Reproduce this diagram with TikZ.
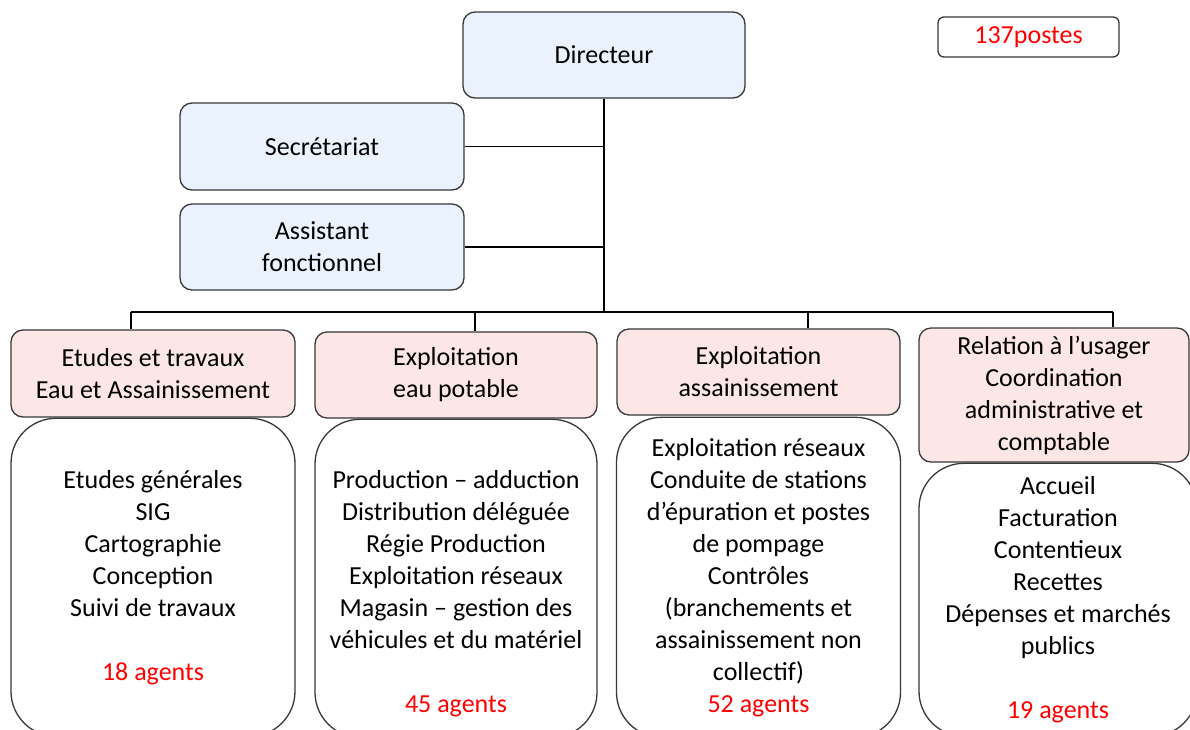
\documentclass[tikz,border=0pt]{standalone}
\usepackage{fontspec}
\setmainfont{Carlito}
\usetikzlibrary{positioning}
\definecolor{bleu}{HTML}{EAF3FD}
\definecolor{rose}{HTML}{FDE6E6}
\definecolor{bord}{HTML}{383838}

\begin{document}
\begin{tikzpicture}[x=1pt,y=-1pt,
    font=\fontsize{26}{32}\selectfont,
    cadre/.style={draw=bord,line width=1.3pt,rounded corners=12pt,inner sep=0pt,align=center},
    chef/.style={cadre,fill=bleu},
    pole/.style={cadre,fill=rose},
    liste/.style={draw=bord,line width=1.3pt,rounded corners=45pt,inner sep=0pt},
    texte/.style={align=center,inner sep=0pt},
    lien/.style={line width=1.2pt}]
    \useasboundingbox (0,0) rectangle (1190,729);
    \clip (0,0) rectangle (1190,729);
    % direction
    \node[chef,minimum width=282pt,minimum height=86pt] (dir) at (604,55) {Directeur};
    \node[chef,minimum width=284pt,minimum height=87pt] (sec) at (322,146.5) {Secrétariat};
    \node[chef,minimum width=284pt,minimum height=86pt] (asst) at (322,247) {Assistant\\fonctionnel};
    \node[cadre,rounded corners=6pt,minimum width=181pt,minimum height=40pt,text=red] (postes) at (1028.5,37) {137postes};
    % poles
    \node[pole,minimum width=284pt,minimum height=87pt] (h1) at (153,373.5) {Etudes et travaux\\Eau et Assainissement};
    \node[pole,minimum width=282pt,minimum height=86pt] (h2) at (456,375) {Exploitation\\eau potable};
    \node[pole,minimum width=283pt,minimum height=86pt] (h3) at (758.5,372) {Exploitation\\assainissement};
    \node[pole,minimum width=270pt,minimum height=134pt] (h4) at (1054,395) {Relation à l’usager\\Coordination\\administrative et\\comptable};
    % missions
    \node[liste,minimum width=284pt,minimum height=318pt,below=0pt of h1] (d1) {};
    \node[liste,minimum width=282pt,minimum height=318pt,below=0pt of h2] (d2) {};
    \node[liste,minimum width=284pt,minimum height=320pt,below=1pt of h3] (d3) {};
    \node[liste,minimum width=278pt,minimum height=273pt,below=0pt of h4,xshift=4pt] (d4) {};
    \node[texte] (l1) at (d1.center) {Etudes générales\\SIG\\Cartographie\\Conception\\Suivi de travaux\\[32pt]\textcolor{red}{18 agents}};
    \node[texte] (l2) at ([yshift=-15pt]d2.center) {Production – adduction\\Distribution déléguée\\Régie Production\\Exploitation réseaux\\Magasin – gestion des\\véhicules et du matériel\\[32pt]\textcolor{red}{45 agents}};
    \node[texte] (l3) at (d3.center) {Exploitation réseaux\\Conduite de stations\\d’épuration et postes\\de pompage\\Contrôles\\(branchements et\\assainissement non\\collectif)\\\textcolor{red}{52 agents}};
    \node[texte] (l4) at (d4.center) {Accueil\\Facturation\\Contentieux\\Recettes\\Dépenses et marchés\\publics\\[32pt]\textcolor{red}{19 agents}};
    % liaisons
    \coordinate (barre) at (dir.south |- 0,312);
    \coordinate (p1) at (131,312);
    \coordinate (p2) at (475,312);
    \coordinate (p3) at (808,312);
    \coordinate (p4) at (1113,312);
    \draw[lien] (dir) -- (barre);
    \draw[lien] (sec) -- (sec -| barre);
    \draw[lien] (asst) -- (asst -| barre);
    \draw[lien] (p1) -- (p4);
    \foreach \i in {1,...,4}
        \draw[lien] (p\i) -- (p\i |- h\i.north);
\end{tikzpicture}
\end{document}
